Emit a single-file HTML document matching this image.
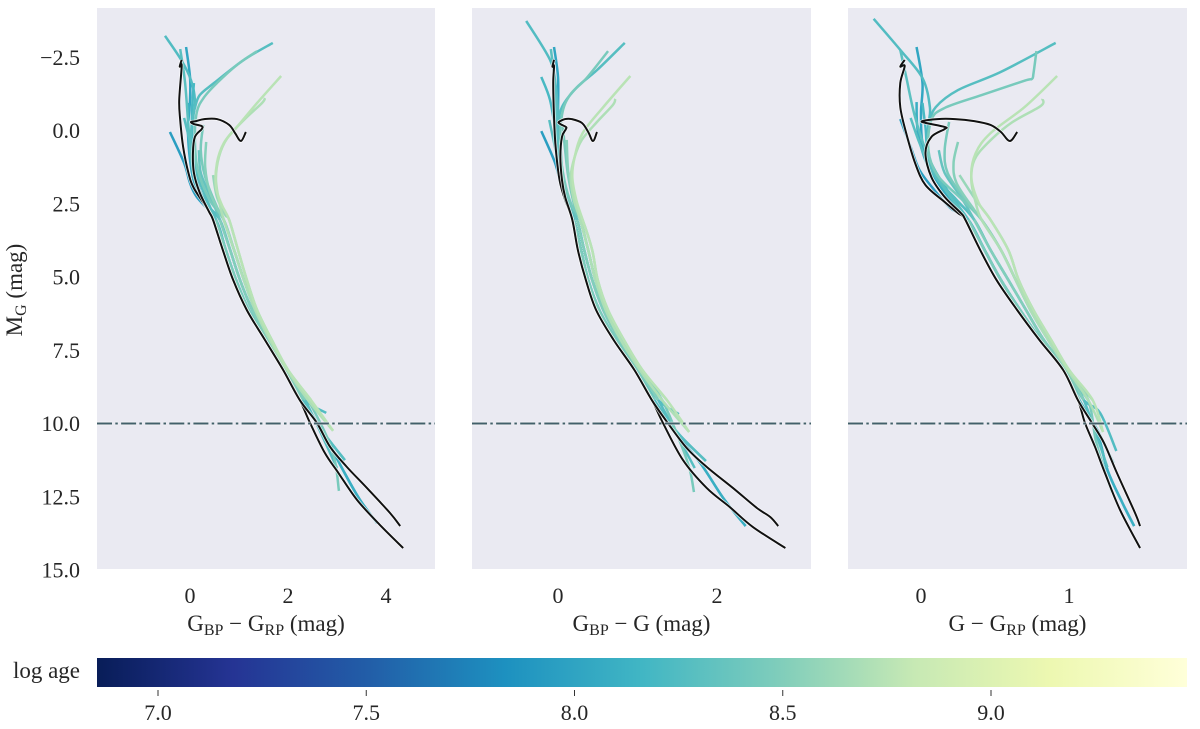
<!DOCTYPE html>
<html lang="en">
<head>
<meta charset="utf-8">
<title>Isochrones in three Gaia colour-magnitude diagrams</title>
<style>
html,body{margin:0;padding:0;background:#fff;}
svg{display:block;}
text{font-family:"Liberation Serif",serif;font-size:22px;fill:#262626;}
text.title{font-size:23px;}
</style>
</head>
<body>
<svg id="chart" xmlns="http://www.w3.org/2000/svg" width="1200" height="729" viewBox="0 0 1200 729">
  <defs>
    <linearGradient id="ylgnbu" x1="0" x2="1" y1="0" y2="0">
      <stop offset="0" stop-color="#081d58"/><stop offset="0.125" stop-color="#253494"/>
      <stop offset="0.25" stop-color="#225ea8"/><stop offset="0.375" stop-color="#1d91c0"/>
      <stop offset="0.5" stop-color="#41b6c4"/><stop offset="0.625" stop-color="#7fcdbb"/>
      <stop offset="0.75" stop-color="#c7e9b4"/><stop offset="0.875" stop-color="#edf8b1"/>
      <stop offset="1" stop-color="#ffffd9"/>
    </linearGradient>
  </defs>
  <rect x="97" y="8" width="338" height="561" fill="#eaeaf2"/>
  <rect x="472" y="8" width="339" height="561" fill="#eaeaf2"/>
  <rect x="848" y="8" width="339" height="561" fill="#eaeaf2"/>
  <g id="marks"></g>
  <g id="ticks"></g>
  <text class="title" transform="translate(22,290) rotate(-90)" text-anchor="middle">M<tspan font-size="16" dy="4">G</tspan><tspan dy="-4"> (mag)</tspan></text>
  <text class="title" x="266" y="631" text-anchor="middle">G<tspan font-size="16" dy="4">BP</tspan><tspan dy="-4"> − G</tspan><tspan font-size="16" dy="4">RP</tspan><tspan dy="-4"> (mag)</tspan></text>
  <text class="title" x="641.5" y="631" text-anchor="middle">G<tspan font-size="16" dy="4">BP</tspan><tspan dy="-4"> − G (mag)</tspan></text>
  <text class="title" x="1017.5" y="631" text-anchor="middle">G − G<tspan font-size="16" dy="4">RP</tspan><tspan dy="-4"> (mag)</tspan></text>
  <rect x="97" y="658" width="1090" height="29" fill="url(#ylgnbu)"/>
  <text class="title" x="80" y="678" text-anchor="end">log age</text>
</svg>
<script>
// ---------- axis tick data ----------
const magTicks = [-2.5, 0, 2.5, 5, 7.5, 10, 12.5, 15];
const magTickLabels = ['−2.5', '0.0', '2.5', '5.0', '7.5', '10.0', '12.5', '15.0'];
const bprpTicks = [0, 2, 4];
const bpgTicks = [0, 2];
const grpTicks = [0, 1];
const ageTicks = [7.0, 7.5, 8.0, 8.5, 9.0];
const referenceMag = 10;

// ---------- colour map ----------
const ageMin = 6.853;
const ageMax = 9.47;
const colormap = ['#081d58','#253494','#225ea8','#1d91c0','#41b6c4','#7fcdbb','#c7e9b4','#edf8b1','#ffffd9'];

// ---------- isochrones ----------
const trackAges = [7.95, 8.02, 8.1, 8.25, 8.2, 8.27, 8.28, 8.3, 8.35, 8.45, 8.45, 8.52, 8.48, 8.5, 8.55, 8.6, 8.7, 8.75];
const trackSpines = ['a','a','a','mid','a','mid','a','a','mid','c','c','c','a','mid','c','light','c','light'];

// lower main sequence, [mag] shared; colour per panel
const spineMag = [3.05, 4.08, 5.10, 6.13, 7.15, 8.17, 9.20];
const bprpSpineDark = [0.47, 0.67, 0.88, 1.16, 1.53, 1.90, 2.24];
const bprpSpineA = [0.53, 0.73, 0.94, 1.20, 1.55, 1.92, 2.29];
const bprpSpineMid = [0.61, 0.82, 1.02, 1.27, 1.59, 1.96, 2.35];
const bprpSpineC = [0.69, 0.90, 1.10, 1.33, 1.63, 1.98, 2.41];
const bprpSpineLight = [0.80, 0.98, 1.16, 1.37, 1.67, 2.00, 2.47];
const bpgSpineDark = [0.18, 0.25, 0.35, 0.48, 0.70, 0.96, 1.18];
const bpgSpineA = [0.20, 0.29, 0.38, 0.52, 0.73, 0.97, 1.21];
const bpgSpineMid = [0.24, 0.33, 0.43, 0.57, 0.77, 1.01, 1.26];
const bpgSpineC = [0.28, 0.38, 0.47, 0.60, 0.79, 1.03, 1.31];
const bpgSpineLight = [0.31, 0.43, 0.50, 0.63, 0.83, 1.06, 1.37];
const grpSpineDark = [0.30, 0.40, 0.51, 0.65, 0.80, 0.96, 1.06];
const grpSpineA = [0.32, 0.43, 0.54, 0.67, 0.81, 0.97, 1.07];
const grpSpineMid = [0.36, 0.47, 0.59, 0.71, 0.83, 0.98, 1.10];
const grpSpineC = [0.41, 0.54, 0.64, 0.74, 0.86, 0.99, 1.13];
const grpSpineLight = [0.47, 0.59, 0.66, 0.76, 0.88, 1.00, 1.16];

// faint ends, [colour, mag]
const bprpTailTeal = [[2.78,9.64]];
const bprpTailLight = [[2.92,10.25]];
const bprpTailBlue = [[2.72,10.3],[3.16,11.25]];
const bprpTailLong = [[2.72,10.3],[3.12,11.58],[3.47,12.61],[3.82,13.4]];
const bprpTailGreen = [[3.0,11.52]];
const bprpTailPale = [[2.9,10.9],[3.04,12.3]];
const bpgTailTeal = [[1.52,9.68]];
const bpgTailLight = [[1.65,10.29]];
const bpgTailBlue = [[1.5,10.3],[1.86,11.28]];
const bpgTailLong = [[1.47,10.3],[1.79,11.35],[2.08,12.55],[2.36,13.5]];
const bpgTailGreen = [[1.72,11.52]];
const bpgTailPale = [[1.56,10.8],[1.66,11.6],[1.71,12.34]];
const grpTailTeal = [[1.21,9.64],[1.32,10.94]];
const grpTailLight = [[1.23,10.29]];
const grpTailBlue = [[1.2,10.3],[1.30,11.35]];
const grpTailLong = [[1.19,10.3],[1.26,11.59],[1.36,12.7],[1.44,13.5]];
const grpTailGreen = [[1.26,11.5]];
const grpTailPale = [[1.18,10.56],[1.24,11.59],[1.29,12.34]];

// upper parts, one per age, [colour, mag]
const bprpUpper = [
 [[-.41,.05],[-.12,1.11],[0,1.79],[.14,2.27]],
 [[-.08,-2.85],[0,-1.83],[0,-1.04],[-.04,-.02],[0,1.0],[.10,1.86],[.31,2.54]],
 [[-.02,-.94],[-.04,.09],[.04,1.18],[.31,2.54]],
 [[-.51,-3.23],[-.18,-2.41],[.02,-1.72],[.10,-1.04],[.06,-.36],[.02,.67],[.10,1.69],[.36,2.54]],
 [[.08,-1.62],[.04,-.6],[.06,.67],[.2,2.2]],
 [[1.69,-2.99],[1.10,-2.41],[.49,-1.62],[.20,-1.21],[.10,-.77],[.04,-.29],[.02,.67],[.14,1.86],[.38,2.65]],
 [[-.12,-.43],[.04,.67],[.18,1.69],[.41,2.61]],
 [[-.20,-2.78],[-.10,-1.62],[-.02,.09],[.08,1.59],[.31,2.54]],
 [[.18,.67],[.22,1.45],[.42,2.27]],
 [[1.37,-2.71],[.96,-2.24],[.55,-1.62],[.29,-1.14],[.14,-.63],[.10,.32],[.16,1.35],[.40,2.37]],
 [[.27,-.19],[.22,.67],[.31,1.59],[.55,2.61]],
 [[.33,.39],[.31,1.25],[.41,2.13],[.63,2.88]],
 [],[],[],
 [[.47,1.52],[.55,2.27],[.72,2.88]],
 [[1.53,-1.11],[1.47,-.94],[1.10,-.36],[.76,.26],[.59,.90],[.53,1.69],[.61,2.54]],
 [[1.86,-1.86],[1.37,-.94],[.96,-.12],[.69,.43],[.55,1.11],[.53,1.93],[.65,2.54]]
];
const bpgUpper = [
 [[-.21,.02],[-.04,1.08],[.03,1.79],[.09,2.37]],
 [[-.05,-2.85],[0,-1.83],[0,-.7],[-.01,.43],[.03,1.59],[.09,2.37]],
 [[-.03,-.7],[0,.67],[.05,1.86]],
 [[-.40,-3.74],[-.10,-2.41],[-.03,-1.55],[0,-.53],[0,.67],[.05,1.69],[.14,2.54]],
 [[-.21,-1.83],[-.10,-1.04],[-.03,.09],[.05,1.69],[.13,2.54]],
 [[.84,-2.99],[.49,-2.06],[.24,-1.48],[.05,-.80],[.01,-.19],[.01,.67],[.05,1.69],[.14,2.54]],
 [[-.11,-.36],[-.03,.67],[.05,1.69],[.15,2.71]],
 [[-.09,-2.78],[-.04,-1.62],[-.01,.09],[.05,1.69],[.13,2.54]],
 [[.03,.32],[.06,1.52],[.16,2.54]],
 [[.63,-2.71],[.36,-1.79],[.15,-1.21],[.05,-.53],[.03,.67],[.08,1.69],[.17,2.54]],
 [[.06,-.19],[.09,.67],[.13,1.59],[.22,2.71]],
 [[.11,.32],[.13,1.45],[.20,2.37]],
 [],[],[],
 [[.15,1.45],[.20,2.37]],
 [[.72,-1.08],[.69,-.87],[.49,-.29],[.30,.32],[.21,.90],[.16,1.59],[.20,2.37]],
 [[.91,-1.86],[.57,-.80],[.31,.09],[.21,.90],[.18,1.59],[.23,2.37]]
];
const grpUpper = [
 [[-.14,-.39],[-.07,.56],[-.01,1.35],[.09,2.03],[.20,2.65]],
 [[-.03,-2.85],[.01,-1.62],[0,-.6],[.01,.43],[.07,1.35],[.18,2.27]],
 [[-.03,-.97],[-.02,.09],[.05,1.25],[.20,2.37]],
 [[-.32,-3.81],[-.14,-2.75],[.01,-1.79],[.06,-.80],[.05,-.19],[.04,.67],[.09,1.52],[.24,2.37]],
 [[.01,-.94],[.03,-.12],[.06,1.01],[.20,2.2]],
 [[.91,-2.99],[.54,-2.0],[.25,-1.38],[.10,-.80],[.06,-.26],[.04,.67],[.09,1.52],[.24,2.37]],
 [[-.07,-.43],[-.01,.43],[.07,1.35],[.23,2.47]],
 [[-.14,-2.75],[-.10,-1.83],[-.04,-.46],[.05,.90],[.18,2.13]],
 [[.12,.67],[.16,1.45],[.27,2.27]],
 [[.78,-2.71],[.76,-1.95],[.75,-1.76],[.70,-1.70],[.41,-1.21],[.16,-.77],[.07,-.36],[.05,.67],[.11,1.52],[.28,2.37]],
 [[.19,-.29],[.16,.67],[.18,1.45],[.30,2.37]],
 [[.25,.39],[.22,1.11],[.24,1.79],[.36,2.71]],
 [],[],[],
 [[.26,1.52],[.37,2.37]],
 [[.82,-1.08],[.81,-.84],[.61,-.26],[.45,.43],[.36,1.01],[.34,1.69],[.37,2.47]],
 [[.92,-1.86],[.70,-.80],[.47,.09],[.37,.77],[.34,1.59],[.39,2.47]]
];
const bprpTails = [bprpTailLong,bprpTailBlue,bprpTailLong,bprpTailTeal,[],bprpTailGreen,bprpTailBlue,[],[],bprpTailPale,[],[],[],[],[],[],bprpTailLight,bprpTailLight];
const bpgTails = [bpgTailLong,bpgTailBlue,bpgTailLong,bpgTailTeal,[],bpgTailGreen,bpgTailBlue,[],[],bpgTailPale,[],[],[],[],[],[],bpgTailLight,bpgTailLight];
const grpTails = [grpTailLong,grpTailBlue,grpTailLong,grpTailTeal,[],grpTailGreen,grpTailBlue,[],[],grpTailPale,[],[],[],[],[],[],grpTailLight,grpTailLight];

// two reference isochrones drawn in black
const bprpBlackAUpper = [[-.17,-2.41],[-.21,-2.18],[-.17,-2.2],[-.22,-1.04],[-.2,-.36],[-.14,.56],[-.03,1.46],[.08,1.97],[.35,2.66]];
const bprpBlackATail = [[2.45,9.98],[2.75,11.0],[3.03,11.69],[3.41,12.61],[3.88,13.47],[4.35,14.25]];
const bprpBlackBUpper = [[1.14,.05],[1.04,.36],[.92,.09],[.8,-.19],[.55,-.39],[.29,-.39],[.12,-.32],[.02,-.29],[.08,-.22],[.24,-.15],[.24,-.05],[.1,.22],[.06,.77],[.08,1.45],[.2,2.13],[.39,2.78]];
const bprpBlackBTail = [[2.59,9.98],[2.86,10.8],[3.2,11.48],[3.61,12.2],[4.08,13.05],[4.29,13.5]];
const bpgBlackAUpper = [[-.05,-2.41],[-.07,-2.18],[-.05,-2.2],[-.06,-1.62],[-.05,-.46],[-.03,.56],[.02,1.69],[.09,2.37]];
const bpgBlackATail = [[1.32,9.98],[1.57,11.24],[1.87,12.2],[2.16,12.85],[2.45,13.53],[2.86,14.25]];
const bpgBlackBUpper = [[.49,.05],[.44,.36],[.38,.05],[.30,-.26],[.17,-.39],[.09,-.39],[.01,-.29],[.03,-.22],[.10,-.12],[.1,-.05],[.05,.22],[.03,.9],[.05,1.69],[.09,2.27]];
const bpgBlackBTail = [[1.38,9.98],[1.62,10.84],[1.87,11.48],[2.20,12.2],[2.50,12.88],[2.67,13.19],[2.77,13.5]];
const grpBlackAUpper = [[-.11,-2.41],[-.14,-2.18],[-.11,-2.2],[-.14,-1.62],[-.14,-.8],[-.10,.09],[-.04,1.11],[.03,1.86],[.16,2.44],[.25,2.82]];
const grpBlackATail = [[1.108,9.98],[1.176,10.8],[1.243,11.69],[1.345,12.95],[1.48,14.25]];
const grpBlackBUpper = [[.65,.05],[.60,.36],[.54,.05],[.47,-.19],[.36,-.32],[.23,-.39],[.11,-.39],[.01,-.32],[.03,-.26],[.16,-.12],[.16,-.05],[.07,.22],[.03,.77],[.07,1.59],[.16,2.27],[.27,2.82]];
const grpBlackBTail = [[1.155,9.98],[1.236,10.66],[1.324,11.69],[1.446,13.05],[1.48,13.5]];

// ---------- axis functions ----------
const NS = 'http://www.w3.org/2000/svg';
const yOf = m => 130.5 + 29.3 * m;
const ageX = a => 158 + 416.5 * (a - 7);
const panels = [
  {id:'bp-rp', left:97, right:435, x0:190, k:49, ticks:bprpTicks, upper:bprpUpper, tails:bprpTails,
   spines:{dark:bprpSpineDark, a:bprpSpineA, mid:bprpSpineMid, c:bprpSpineC, light:bprpSpineLight},
   a:[bprpBlackAUpper,bprpBlackATail], b:[bprpBlackBUpper,bprpBlackBTail]},
  {id:'bp-g', left:472, right:811, x0:558, k:79.5, ticks:bpgTicks, upper:bpgUpper, tails:bpgTails,
   spines:{dark:bpgSpineDark, a:bpgSpineA, mid:bpgSpineMid, c:bpgSpineC, light:bpgSpineLight},
   a:[bpgBlackAUpper,bpgBlackATail], b:[bpgBlackBUpper,bpgBlackBTail]},
  {id:'g-rp', left:848, right:1187, x0:921, k:148, ticks:grpTicks, upper:grpUpper, tails:grpTails,
   spines:{dark:grpSpineDark, a:grpSpineA, mid:grpSpineMid, c:grpSpineC, light:grpSpineLight},
   a:[grpBlackAUpper,grpBlackATail], b:[grpBlackBUpper,grpBlackBTail]}
];

function ageColor(age){
  const t = Math.max(0, Math.min(1, (age - ageMin) / (ageMax - ageMin))) * (colormap.length - 1);
  const i = Math.min(colormap.length - 2, Math.floor(t));
  const f = t - i;
  const hex = c => [1,3,5].map(p => parseInt(c.substr(p,2),16));
  const a = hex(colormap[i]), b = hex(colormap[i+1]);
  return 'rgb(' + a.map((v,j) => Math.round(v + (b[j]-v)*f)).join(',') + ')';
}
function smoothPath(pts){
  let d = 'M' + pts[0][0].toFixed(2) + ' ' + pts[0][1].toFixed(2);
  for(let i = 0; i < pts.length - 1; i++){
    const p0 = pts[Math.max(0,i-1)], p1 = pts[i], p2 = pts[i+1], p3 = pts[Math.min(pts.length-1,i+2)];
    const c1x = p1[0] + (p2[0]-p0[0])/6, c1y = p1[1] + (p2[1]-p0[1])/6;
    const c2x = p2[0] - (p3[0]-p1[0])/6, c2y = p2[1] - (p3[1]-p1[1])/6;
    d += 'C' + [c1x,c1y,c2x,c2y,p2[0],p2[1]].map(v => v.toFixed(2)).join(' ');
  }
  return d;
}
function trackPixels(panel, upper, spine, tail){
  const spinePts = spine.map((c,i) => [c, spineMag[i]]);
  return upper.concat(spinePts, tail).map(p => [panel.x0 + panel.k * p[0], yOf(p[1])]);
}
const marks = document.getElementById('marks');
const tickLayer = document.getElementById('ticks');

function addPath(d, stroke, width, opacity){
  const el = document.createElementNS(NS, 'path');
  el.setAttribute('d', d);
  el.setAttribute('fill', 'none');
  el.setAttribute('stroke', stroke);
  el.setAttribute('stroke-width', width);
  el.setAttribute('stroke-linejoin', 'round');
  if(opacity) el.setAttribute('stroke-opacity', opacity);
  marks.appendChild(el);
  return el;
}
function addText(str, x, y, anchor){
  const el = document.createElementNS(NS, 'text');
  el.textContent = str;
  el.setAttribute('x', x);
  el.setAttribute('y', y);
  el.setAttribute('text-anchor', anchor);
  tickLayer.appendChild(el);
  return el;
}

panels.forEach(panel => {
  trackAges.forEach((age, i) => {
    const px = trackPixels(panel, panel.upper[i], panel.spines[trackSpines[i]], panel.tails[i]);
    const line = addPath(smoothPath(px), ageColor(age), 2.5);
    
    
  });
  [panel.a, panel.b].forEach(parts => {
    const px = trackPixels(panel, parts[0], panel.spines.dark, parts[1]);
    const d = smoothPath(px);
    const halo = addPath(d, '#ffffff', 3.4, 0.8);
    
    
    const line = addPath(d, '#111111', 2);
    
    
  });
  const y = yOf(referenceMag);
  const refHalo = addPath('M' + panel.left + ' ' + y + 'H' + panel.right, '#ffffff', 3.4, 0.7);
  refHalo.setAttribute('stroke-dasharray', '15 3.3 2.5 3.3');
  
  
  const ref = addPath('M' + panel.left + ' ' + y + 'H' + panel.right, '#42606a', 2);
  ref.setAttribute('stroke-dasharray', '15 3.3 2.5 3.3');
  
  
  panel.ticks.forEach(v => {
    const t = addText(String(v), panel.x0 + panel.k * v, 603, 'middle');
    
    
  });
});
magTicks.forEach((m, i) => {
  const t = addText(magTickLabels[i], 80, yOf(m) + 7.5, 'end');
  
  
});
ageTicks.forEach(a => {
  const tick = document.createElementNS(NS, 'line');
  tick.setAttribute('x1', ageX(a));
  tick.setAttribute('x2', ageX(a));
  tick.setAttribute('y1', 690);
  tick.setAttribute('y2', 696);
  tick.setAttribute('stroke', '#333333');
  tick.setAttribute('stroke-width', 1);
  
  
  tickLayer.appendChild(tick);
  const t = addText(a.toFixed(1), ageX(a), 720, 'middle');
  
  
});
</script>
</body>
</html>
